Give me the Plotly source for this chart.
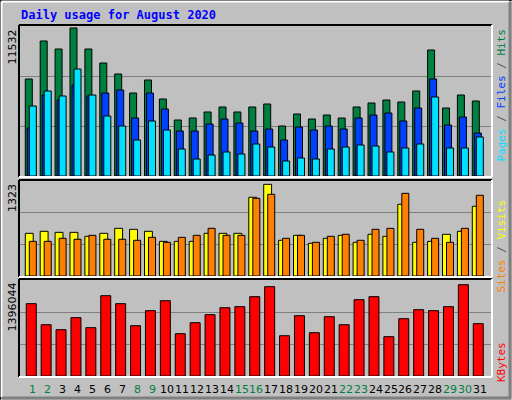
import plotly.graph_objects as go

days = list(range(1, 32))
day_labels = [str(d) for d in days]
weekend = [1, 2, 8, 9, 15, 16, 22, 23, 29, 30]

hits = [7556, 10517, 9893, 11532, 9893, 8803, 7946, 6466, 7478, 5998, 4362, 4518, 4986, 5375, 4986, 5375,
        5609, 3895, 4830, 4440, 4752, 4518, 5375, 5687, 5920, 5765, 6622, 9815, 5297, 6310, 5843]
files = [3739, 6310, 5920, 7089, 6232, 6466, 6699, 4518, 6466, 5219, 3506, 3506, 4051, 4440, 4129, 3506,
         3661, 2804, 3817, 3583, 3895, 3661, 4518, 4752, 4908, 4285, 5297, 7556, 3973, 4596, 3350]
pages = [5453, 6622, 6232, 8335, 6310, 4674, 3895, 2804, 4285, 3583, 2103, 1324, 1636, 1870, 1714, 2493,
         2259, 1169, 1402, 1324, 2103, 2259, 2415, 2337, 1870, 2181, 2493, 6154, 2181, 2181, 3038]
visits = [616, 645, 630, 630, 573, 616, 688, 674, 645, 500, 500, 500, 616, 616, 616, 1136,
          1323, 515, 587, 472, 544, 587, 486, 602, 573, 1035, 486, 500, 602, 645, 1006]
sites = [500, 500, 544, 530, 587, 530, 530, 515, 558, 486, 558, 587, 688, 587, 587, 1121,
         1179, 544, 587, 486, 573, 602, 515, 674, 688, 1193, 674, 544, 486, 688, 1165]
kbytes = [1106000, 784000, 708000, 892000, 739000, 1228000, 1106000, 769000, 999000, 1151000, 647000,
          815000, 938000, 1044000, 1060000, 1213000, 1366000, 616000, 922000, 662000, 907000, 784000,
          1167000, 1213000, 601000, 876000, 1014000, 999000, 1060000, 1396044, 800000]

W, H = 512, 400
def px(x): return x / W
def py(y): return 1 - y / H

fig = go.Figure()
def bar(y, color, off, wid, ax):
    fig.add_trace(go.Bar(x=days, y=y, offset=off, width=wid, marker=dict(color=color, line=dict(color="black", width=1)),
                         xaxis="x", yaxis=ax, showlegend=False, hoverinfo="skip"))

bar(hits, "#008040", -0.515, 0.47, "y")
bar(files, "#0040FF", -0.38, 0.47, "y")
bar(pages, "#00E0FF", -0.245, 0.47, "y")
bar(visits, "#FFFF00", -0.515, 0.53, "y2")
bar(sites, "#FF8000", -0.245, 0.47, "y2")
bar(kbytes, "#FF0000", -0.45, 0.67, "y3")

def yax(lo, hi, top):
    return dict(domain=[py(lo), py(hi)], range=[0, top], dtick=top / 3, showticklabels=False,
                showgrid=True, gridcolor="#808080", gridwidth=1, zeroline=False, fixedrange=True)

fig.update_layout(
    width=W, height=H, margin=dict(l=0, r=0, t=0, b=0),
    paper_bgcolor="#C0C0C0", plot_bgcolor="#C0C0C0", barmode="overlay",
    xaxis=dict(domain=[px(20), px(491)], range=[0.13, 31.74], showticklabels=False, showgrid=False,
               zeroline=False, anchor="y3"),
    yaxis=yax(176, 26, 11685),
    yaxis2=yax(276, 181, 1371),
    yaxis3=yax(376, 280, 1468000),
)

shapes = []
def line(x0, y0, x1, y1, c, w=1):
    shapes.append(dict(type="line", xref="paper", yref="paper", x0=px(x0), y0=py(y0), x1=px(x1), y1=py(y1),
                       line=dict(color=c, width=w)))
line(0.5, 0.5, 511.5, 0.5, "black"); line(0.5, 0.5, 0.5, 399.5, "black")
line(1.5, 1.5, 509, 1.5, "white", 2); line(1.5, 1.5, 1.5, 397, "white", 2)
line(2, 398, 511, 398, "#808080", 3); line(510, 2, 510, 398, "#808080", 3)
for top, bot in [(25, 177), (180, 277), (279, 377)]:
    line(19, top, 492, top, "black", 2); line(19, top, 19, bot, "black", 2)
    line(19, bot, 492, bot, "white", 2); line(492, top, 492, bot, "white", 2)
fig.update_layout(shapes=shapes)

ann = []
ann.append(dict(text="<b>Daily usage for August 2020</b>", x=px(19), y=py(6), xref="paper", yref="paper",
                xanchor="left", yanchor="top", showarrow=False,
                font=dict(family="DejaVu Sans Mono", size=12, color="#0000FF")))
for lbl, y in [("11532", 28), ("1323", 182), ("1396044", 281)]:
    ann.append(dict(text=lbl, x=px(12), y=py(y), xref="paper", yref="paper", textangle=-90,
                    xanchor="center", yanchor="top", showarrow=False,
                    font=dict(family="DejaVu Sans", size=11, color="black")))
def right(text, y):
    ann.append(dict(text=text, x=px(501), y=py(y), xref="paper", yref="paper", textangle=-90,
                    xanchor="center", yanchor="top", showarrow=False,
                    font=dict(family="DejaVu Sans Mono", size=11)))
right("<span style='color:#00E0FF'>Pages</span><span style='color:#555'> / </span><span style='color:#0040FF'>Files</span><span style='color:#555'> / </span><span style='color:#008040'>Hits</span>", 27)
right("<span style='color:#FF8000'>Sites</span><span style='color:#555'> / </span><span style='color:#FFFF00'>Visits</span>", 198)
right("<span style='color:#FF0000'>KBytes</span>", 340)
for d, lbl in zip(days, day_labels):
    ann.append(dict(text=lbl, x=d, y=py(389), xref="x", yref="paper", showarrow=False,
                    xanchor="center", yanchor="middle",
                    font=dict(family="DejaVu Sans", size=11, color="#008040" if d in weekend else "black")))
fig.update_layout(annotations=ann)

fig.write_html("out.html", config={"displayModeBar": False},
               post_script="document.body.style.margin='0';document.body.style.overflow='hidden';")
